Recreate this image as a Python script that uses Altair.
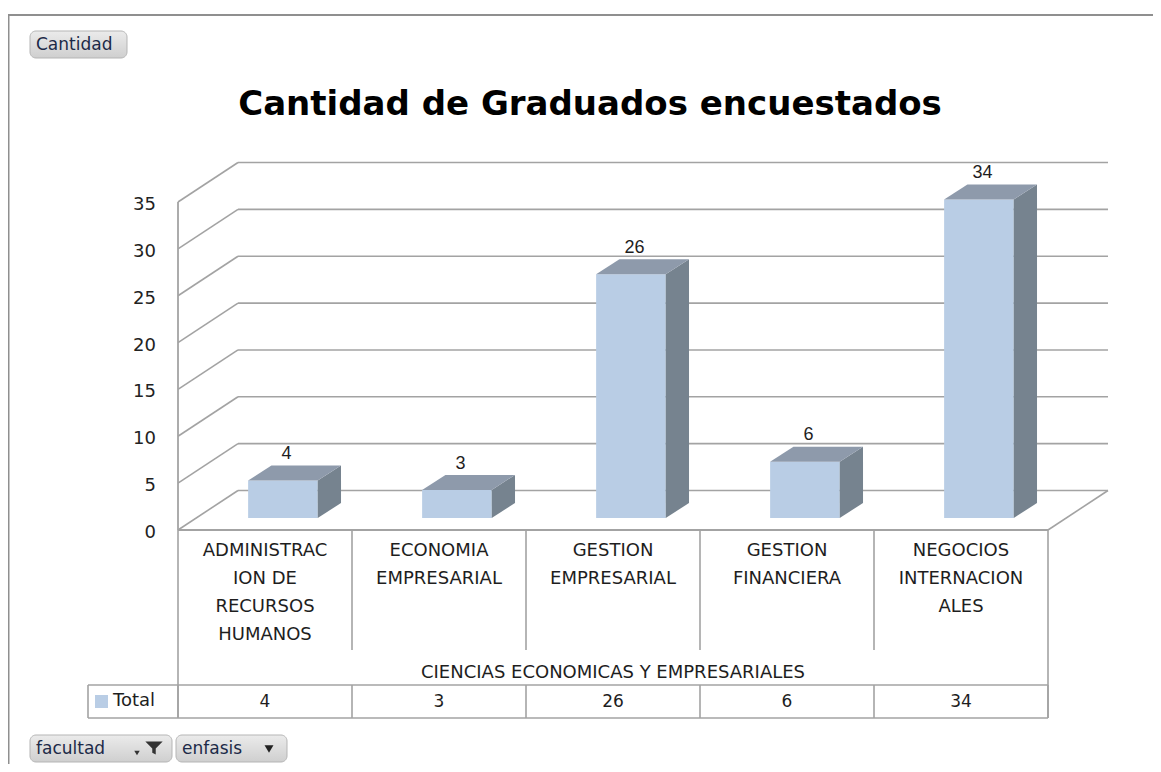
import altair as alt
import pandas as pd

# ---------------- data ----------------
categories = ["ADMINISTRACION DE RECURSOS HUMANOS", "ECONOMIA EMPRESARIAL",
              "GESTION EMPRESARIAL", "GESTION FINANCIERA", "NEGOCIOS INTERNACIONALES"]
category_lines = ["ADMINISTRAC\nION DE\nRECURSOS\nHUMANOS", "ECONOMIA\nEMPRESARIAL",
                  "GESTION\nEMPRESARIAL", "GESTION\nFINANCIERA", "NEGOCIOS\nINTERNACION\nALES"]
values = [4, 3, 26, 6, 34]
y_ticks = [0, 5, 10, 15, 20, 25, 30, 35]
group_label = "CIENCIAS ECONOMICAS Y EMPRESARIALES"
title_text = "Cantidad de Graduados encuestados"
series_name = "Total"

# ---------------- geometry / style ----------------
W, H = 1145, 756
CAT_PX, V_PX = 174.0, 9.371          # px per category, px per unit value
ORIGIN_X, ORIGIN_Y = 170.0, 522.0     # plot-coords of front axis origin
UMIN, UMAX = -ORIGIN_X / CAT_PX, (W - ORIGIN_X) / CAT_PX
VMAX, VMIN = ORIGIN_Y / V_PX, (ORIGIN_Y - H) / V_PX
FLOOR_DU, FLOOR_DV = 60 / CAT_PX, 39.5 / V_PX
BAR_L, BAR_W = 0.403, 0.40
BAR_BASE = 12 / V_PX
BAR_DU, BAR_DV = 23.3 / CAT_PX, 15 / V_PX
NCAT = len(categories)
YMAX = max(y_ticks)

GRID = "#a3a3a3"
FRONT, TOP, SIDE = "#b9cde5", "#8e9aab", "#76838f"
TXT = "#1e1e1e"

xs = alt.Scale(domain=[UMIN, UMAX], nice=False, zero=False)
ys = alt.Scale(domain=[VMIN, VMAX], nice=False, zero=False)

def X(f):
    return alt.X(f, type="quantitative", scale=xs, axis=None)

def Y(f):
    return alt.Y(f, type="quantitative", scale=ys, axis=None)

one = pd.DataFrame({"k": [0]})

# back wall gridlines
grid_df = pd.DataFrame({"v": [t + FLOOR_DV for t in y_ticks],
                        "u1": FLOOR_DU, "u2": NCAT + FLOOR_DU})
grid = alt.Chart(grid_df).mark_rule(color=GRID, strokeWidth=1.6).encode(
    x=X("u1"), x2="u2", y=Y("v"))

# left wall diagonals
diag_df = pd.DataFrame({"v1": y_ticks, "v2": [t + FLOOR_DV for t in y_ticks],
                        "u1": 0.0, "u2": FLOOR_DU})
diag = alt.Chart(diag_df).mark_rule(color=GRID, strokeWidth=1.6).encode(
    x=X("u1"), x2="u2", y=Y("v1"), y2="v2")

# front axis and floor edges
axis_df = pd.DataFrame({"u1": [0.0], "v1": [0.0], "v2": [float(YMAX)]})
axis_line = alt.Chart(axis_df).mark_rule(color=GRID, strokeWidth=1.8).encode(
    x=X("u1"), y=Y("v1"), y2="v2")
floor_df = pd.DataFrame({"u1": [float(NCAT)], "u2": [NCAT + FLOOR_DU],
                         "v1": [0.0], "v2": [FLOOR_DV]})
floor_right = alt.Chart(floor_df).mark_rule(color=GRID, strokeWidth=1.6).encode(
    x=X("u1"), x2="u2", y=Y("v1"), y2="v2")
front_df = pd.DataFrame({"u1": [0.0], "u2": [float(NCAT)], "v1": [0.0]})
front_edge = alt.Chart(front_df).mark_rule(color=GRID, strokeWidth=1.8).encode(
    x=X("u1"), x2="u2", y=Y("v1"))

# bars
bars_df = pd.DataFrame({"cat": categories, "value": values,
                        "i": list(range(NCAT))})
bars_df["l"] = bars_df["i"] + BAR_L
bars_df["r"] = bars_df["l"] + BAR_W
bars_df["b"] = BAR_BASE
bars_df["t"] = BAR_BASE + bars_df["value"]
bars_df["c"] = (bars_df["l"] + bars_df["r"]) / 2 + 0.02
bars_df["lab"] = bars_df["t"] + BAR_DV + 0.25

front = alt.Chart(bars_df).mark_rect(color=FRONT).encode(
    x=X("l"), x2="r", y=Y("b"), y2="t")

side_rows = []
top_rows = []
for _, r in bars_df.iterrows():
    side_rows.append({"cat": r["cat"], "u": r["r"], "top": r["t"], "bot": r["b"]})
    side_rows.append({"cat": r["cat"], "u": r["r"] + BAR_DU,
                      "top": r["t"] + BAR_DV, "bot": r["b"] + BAR_DV})
    top_rows.append({"cat": r["cat"], "v": r["t"], "x1": r["l"], "x2": r["r"]})
    top_rows.append({"cat": r["cat"], "v": r["t"] + BAR_DV,
                     "x1": r["l"] + BAR_DU, "x2": r["r"] + BAR_DU})
side = alt.Chart(pd.DataFrame(side_rows)).mark_area(
    color=SIDE, orient="vertical", opacity=1).encode(
    x=X("u"), y=Y("top"), y2="bot", detail="cat:N")
topf = alt.Chart(pd.DataFrame(top_rows)).mark_area(
    color=TOP, orient="horizontal", opacity=1).encode(
    y=Y("v"), x=X("x1"), x2="x2", detail="cat:N")

labels = alt.Chart(bars_df).mark_text(
    font="Liberation Sans", fontSize=18, color=TXT, baseline="bottom").encode(
    x=X("c"), y=Y("lab"), text="value:Q")

# y tick labels
tick_df = pd.DataFrame({"v": y_ticks})
ticks = alt.Chart(tick_df).mark_text(
    font="DejaVu Sans", fontSize=18, color="#222222", align="right",
    baseline="middle", dy=3).encode(
    x=alt.value(148), y=Y("v"), text="v:Q")

# ---------------- table ----------------
TABLE_TOP, INNER_BOTTOM, ROW_TOP, ROW_BOTTOM = 522, 642, 677, 710
vlines_df = pd.DataFrame({"u": [float(i) for i in range(NCAT + 1)]})
vl_inner = alt.Chart(vlines_df.iloc[1:NCAT]).mark_rule(color=GRID, strokeWidth=1.6).encode(
    x=X("u"), y=alt.value(TABLE_TOP), y2=alt.value(INNER_BOTTOM))
vl_outer = alt.Chart(vlines_df.iloc[[0, NCAT]]).mark_rule(color=GRID, strokeWidth=1.6).encode(
    x=X("u"), y=alt.value(TABLE_TOP), y2=alt.value(ROW_BOTTOM))
vl_row = alt.Chart(vlines_df).mark_rule(color=GRID, strokeWidth=1.6).encode(
    x=X("u"), y=alt.value(ROW_TOP), y2=alt.value(ROW_BOTTOM))
TOTAL_U = -90 / CAT_PX
hl_df = pd.DataFrame({"u1": [TOTAL_U, TOTAL_U], "u2": [float(NCAT)] * 2,
                      "py": [ROW_TOP, ROW_BOTTOM]})
hl = alt.layer(*[
    alt.Chart(hl_df.iloc[[j]]).mark_rule(color=GRID, strokeWidth=1.6).encode(
        x=X("u1"), x2="u2", y=alt.value(float(hl_df["py"].iloc[j])))
    for j in range(2)])
vl_total = alt.Chart(pd.DataFrame({"u": [TOTAL_U]})).mark_rule(
    color=GRID, strokeWidth=1.6).encode(
    x=X("u"), y=alt.value(ROW_TOP), y2=alt.value(ROW_BOTTOM))

cat_df = pd.DataFrame({"c": [i + 0.5 for i in range(NCAT)], "txt": category_lines})
cat_text = alt.Chart(cat_df).mark_text(
    font="DejaVu Sans", fontSize=18, color=TXT, baseline="top", lineBreak="\n",
    lineHeight=28).encode(x=X("c"), y=alt.value(534), text="txt:N")

group = alt.Chart(pd.DataFrame({"c": [NCAT / 2], "txt": [group_label]})).mark_text(
    font="DejaVu Sans", fontSize=18, color=TXT, baseline="middle").encode(
    x=X("c"), y=alt.value(665), text="txt:N")

val_df = pd.DataFrame({"c": [i + 0.5 for i in range(NCAT)], "value": values})
val_text = alt.Chart(val_df).mark_text(
    font="DejaVu Sans", fontSize=17, color=TXT, baseline="middle").encode(
    x=X("c"), y=alt.value(694), text="value:Q")

total_sq = alt.Chart(one).mark_rect(color=FRONT).encode(
    x=alt.value(87), x2=alt.value(100), y=alt.value(687), y2=alt.value(700))
total_txt = alt.Chart(pd.DataFrame({"t": [series_name]})).mark_text(
    font="DejaVu Sans", fontSize=18, color=TXT, align="left", baseline="middle").encode(
    x=alt.value(105), y=alt.value(693), text="t:N")

# ---------------- title ----------------
title = alt.Chart(pd.DataFrame({"t": [title_text]})).mark_text(
    font="DejaVu Sans", fontWeight="bold", fontSize=34, color="#000000",
    baseline="middle").encode(x=alt.value(582), y=alt.value(97), text="t:N")

# ---------------- frame & buttons ----------------
frame_top = alt.Chart(one).mark_rule(color="#8f8f8f", strokeWidth=2).encode(
    x=alt.value(0), x2=alt.value(W), y=alt.value(7))
frame_left = alt.Chart(one).mark_rule(color="#8f8f8f", strokeWidth=2).encode(
    x=alt.value(0.5), y=alt.value(7), y2=alt.value(H))

grad = alt.Gradient(gradient="linear", x1=0, x2=0, y1=0, y2=1,
                    stops=[alt.GradientStop(color="#ebebeb", offset=0),
                           alt.GradientStop(color="#cfcfcf", offset=1)])

def button(x1, x2, y1, y2):
    return alt.Chart(one).mark_rect(fill=grad, stroke="#b5b5b5", strokeWidth=1,
                                    cornerRadius=6).encode(
        x=alt.value(x1), x2=alt.value(x2), y=alt.value(y1), y2=alt.value(y2))

BTN_TXT = "#1c2a48"
btn_names = ["Cantidad", "facultad", "enfasis"]
btn1 = button(22, 119, 23, 50)
btn1_t = alt.Chart(pd.DataFrame({"t": [btn_names[0]]})).mark_text(
    font="DejaVu Sans", fontSize=17, color=BTN_TXT, align="left", baseline="middle").encode(
    x=alt.value(28), y=alt.value(37), text="t:N")
btn2 = button(22, 164, 727, 754)
btn2_t = alt.Chart(pd.DataFrame({"t": [btn_names[1]]})).mark_text(
    font="DejaVu Sans", fontSize=17, color=BTN_TXT, align="left", baseline="middle").encode(
    x=alt.value(28), y=alt.value(741), text="t:N")
btn3 = button(168, 279, 727, 754)
btn3_t = alt.Chart(pd.DataFrame({"t": [btn_names[2]]})).mark_text(
    font="DejaVu Sans", fontSize=17, color=BTN_TXT, align="left", baseline="middle").encode(
    x=alt.value(174), y=alt.value(741), text="t:N")

funnel_path = "M-1,-0.75 L1,-0.75 L0.2,0.05 L0.2,0.75 L-0.2,0.55 L-0.2,0.05 Z"
funnel = alt.Chart(one).mark_point(shape=funnel_path, filled=True, color="#333333",
                                   size=300, opacity=1).encode(
    x=alt.value(146), y=alt.value(740))
small_arrow = alt.Chart(one).mark_point(shape="triangle-down", filled=True,
                                        color="#333333", size=30, opacity=1).encode(
    x=alt.value(129), y=alt.value(745))
arrow2 = alt.Chart(one).mark_point(shape="triangle-down", filled=True,
                                   color="#222222", size=80, opacity=1).encode(
    x=alt.value(261), y=alt.value(741))

chart = alt.layer(
    frame_top, frame_left,
    grid, diag, axis_line, floor_right, front_edge,
    front, side, topf, labels, ticks,
    vl_inner, vl_outer, vl_row, hl, vl_total,
    cat_text, group, val_text, total_sq, total_txt,
    title,
    btn1, btn1_t, btn2, btn2_t, btn3, btn3_t, funnel, small_arrow, arrow2,
).properties(
    width=W, height=H, padding=0,
    autosize=alt.AutoSizeParams(type="none"),
).configure_view(stroke=None)

chart.save("out.html", embed_options={"renderer": "svg", "actions": False})
